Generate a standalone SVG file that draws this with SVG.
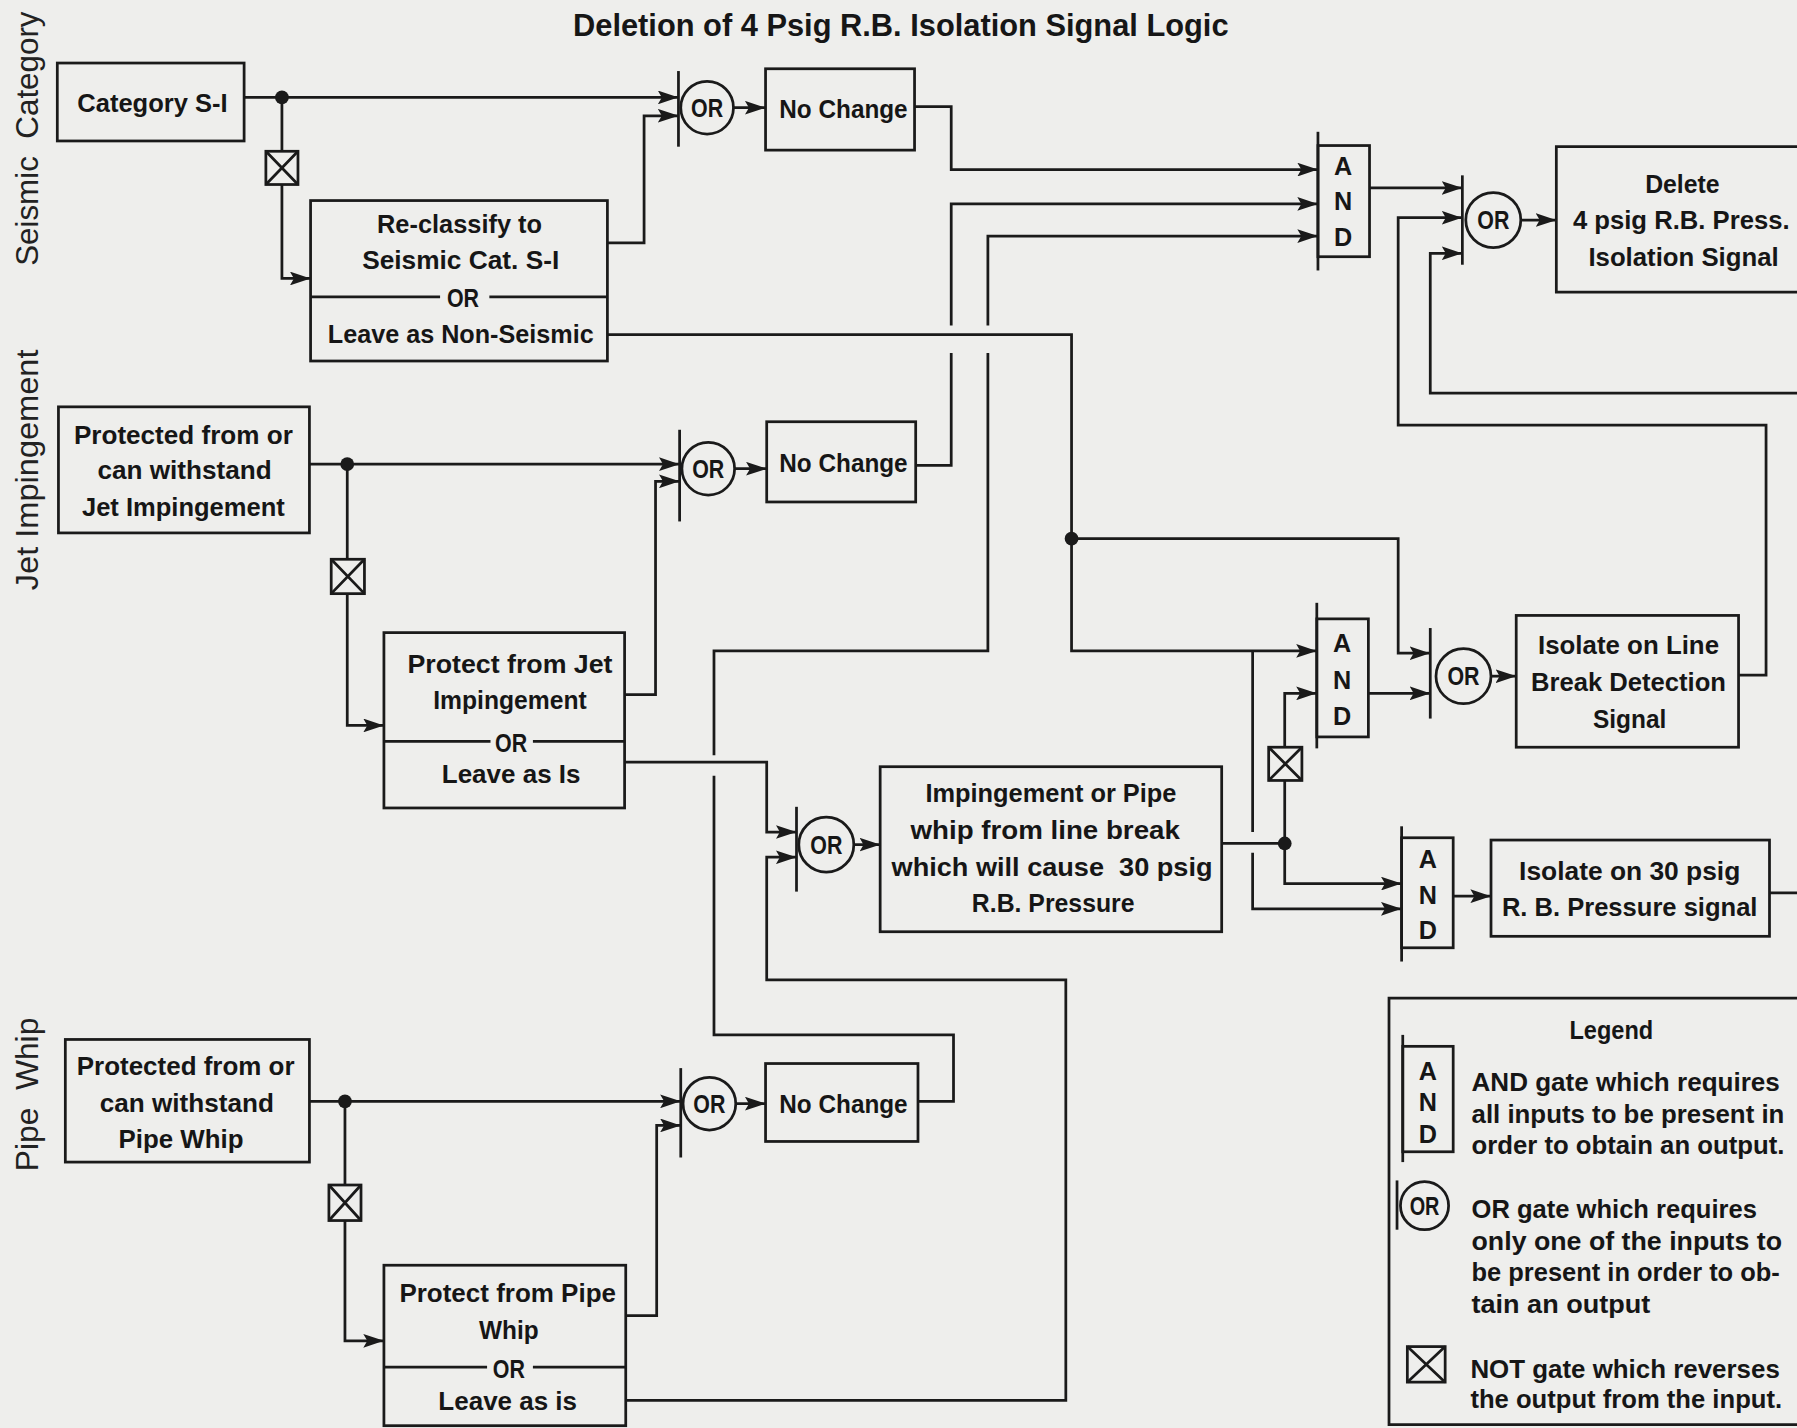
<svg xmlns="http://www.w3.org/2000/svg" width="1797" height="1428" viewBox="0 0 1797 1428">
<style>
.bg{fill:#eeeeec}
.w{fill:none;stroke:#1a1a1a;stroke-width:2.4;stroke-linejoin:miter}
.b{fill:none;stroke:#1a1a1a;stroke-width:2.4}
.dot{fill:#1a1a1a}
.t{font-family:"Liberation Sans",Arial,sans-serif;font-weight:bold;font-size:23px;fill:#161616;text-anchor:middle;white-space:pre}
.g{font-family:"Liberation Sans",Arial,sans-serif;font-weight:bold;font-size:22px;fill:#161616;text-anchor:middle}
.lg{font-family:"Liberation Sans",Arial,sans-serif;font-weight:bold;font-size:22px;fill:#161616}
.side{font-family:"Liberation Sans",Arial,sans-serif;font-weight:normal;font-size:28px;fill:#222;text-anchor:middle;white-space:pre}
.title{font-family:"Liberation Sans",Arial,sans-serif;font-weight:bold;font-size:27px;fill:#161616;text-anchor:middle}
</style>
<defs>
<marker id="ah" viewBox="0 0 18 12" refX="18" refY="6" markerWidth="18" markerHeight="12" orient="auto" markerUnits="userSpaceOnUse">
<path d="M0,0 L18,6 L0,12 L3.5,6 z" fill="#1a1a1a"/>
</marker>
</defs>
<rect class="bg" x="0" y="0" width="1797" height="1428"/>
<g transform="scale(1.146045)">
<g id="title"><text class="title" x="786" y="31" textLength="572" lengthAdjust="spacingAndGlyphs">Deletion of 4 Psig R.B. Isolation Signal Logic</text></g>
<g id="side-labels">
<text class="side" transform="translate(33,121) rotate(-90)" textLength="222" lengthAdjust="spacingAndGlyphs">Seismic  Category</text>
<text class="side" transform="translate(33,410) rotate(-90)" textLength="210" lengthAdjust="spacingAndGlyphs">Jet Impingement</text>
<text class="side" transform="translate(33,955) rotate(-90)" textLength="134" lengthAdjust="spacingAndGlyphs">Pipe  Whip</text>
</g>

<g id="connectors">
<path class="w" d="M213,85 H592" marker-end="url(#ah)"/>
<path class="w" d="M246,85 V132"/>
<path class="w" d="M246,161 V243 H271" marker-end="url(#ah)"/>
<path class="w" d="M530,212 H562 V101 H592" marker-end="url(#ah)"/>
<path class="w" d="M640,94 H668" marker-end="url(#ah)"/>
<path class="w" d="M798,93 H830 V148 H1150" marker-end="url(#ah)"/>
<path class="w" d="M530,292 H935 V568 H1149" marker-end="url(#ah)"/>
<path class="w" d="M935,470 H1220 V570 H1248" marker-end="url(#ah)"/>
<path class="w" d="M270,405 H593" marker-end="url(#ah)"/>
<path class="w" d="M303,405 V488"/>
<path class="w" d="M303,518 V633 H335" marker-end="url(#ah)"/>
<path class="w" d="M545,606 H572 V420 H593" marker-end="url(#ah)"/>
<path class="w" d="M641,409 H669" marker-end="url(#ah)"/>
<path class="w" d="M799,406 H830 V308"/>
<path class="w" d="M830,284 V178 H1150" marker-end="url(#ah)"/>
<path class="w" d="M545,665 H669 V726 H695" marker-end="url(#ah)"/>
<path class="w" d="M745,737 H768" marker-end="url(#ah)"/>
<path class="w" d="M1066,736 H1120"/>
<path class="w" d="M1121,736 V681"/>
<path class="w" d="M1121,652 V605 H1149" marker-end="url(#ah)"/>
<path class="w" d="M1121,736 V771 H1223" marker-end="url(#ah)"/>
<path class="w" d="M1093,568 V726"/>
<path class="w" d="M1093,744 V793 H1223" marker-end="url(#ah)"/>
<path class="w" d="M1194,605 H1248" marker-end="url(#ah)"/>
<path class="w" d="M1301,590 H1323" marker-end="url(#ah)"/>
<path class="w" d="M1517,589 H1541 V371 H1220 V190 H1276" marker-end="url(#ah)"/>
<path class="w" d="M1195,164 H1276" marker-end="url(#ah)"/>
<path class="w" d="M1572,343 H1248 V221 H1276" marker-end="url(#ah)"/>
<path class="w" d="M1327,192 H1358" marker-end="url(#ah)"/>
<path class="w" d="M1268,782 H1301" marker-end="url(#ah)"/>
<path class="w" d="M1544,779 H1572"/>
<path class="w" d="M270,961 H594" marker-end="url(#ah)"/>
<path class="w" d="M301,961 V1034"/>
<path class="w" d="M301,1065 V1170 H335" marker-end="url(#ah)"/>
<path class="w" d="M546,1148 H573 V982 H594" marker-end="url(#ah)"/>
<path class="w" d="M642,963 H668" marker-end="url(#ah)"/>
<path class="w" d="M801,961 H832 V903 H623 V677"/>
<path class="w" d="M623,659 V568 H862 V308"/>
<path class="w" d="M862,284 V206 H1150" marker-end="url(#ah)"/>
<path class="w" d="M546,1222 H930 V855 H669 V748 H695" marker-end="url(#ah)"/>
<circle class="dot" cx="246" cy="85" r="6"/>
<circle class="dot" cx="303" cy="405" r="6"/>
<circle class="dot" cx="301" cy="961" r="6"/>
<circle class="dot" cx="935" cy="470" r="6"/>
<circle class="dot" cx="1121" cy="736" r="6"/>
</g>

<g id="category-s1"><rect class="b" x="50" y="55" width="163" height="68"/>
<text class="t" x="133" y="98" textLength="131" lengthAdjust="spacingAndGlyphs">Category S-I</text></g>
<g id="not1"><rect class="b" x="232" y="132" width="28" height="29"/><path class="b" d="M232,132 L260,161 M260,132 L232,161"/></g>
<g id="reclassify"><rect class="b" x="271" y="175" width="259" height="140"/>
<path class="b" d="M271,259 H384 M427,259 H530"/>
<text class="t" x="401" y="203" textLength="144" lengthAdjust="spacingAndGlyphs">Re-classify to</text>
<text class="t" x="402" y="235" textLength="172" lengthAdjust="spacingAndGlyphs">Seismic Cat. S-I</text>
<text class="t" x="404" y="268" textLength="28" lengthAdjust="spacingAndGlyphs">OR</text>
<text class="t" x="402" y="299" textLength="232" lengthAdjust="spacingAndGlyphs">Leave as Non-Seismic</text></g>
<g id="or1"><path class="b" d="M592,62 V128"/><circle class="b" cx="617" cy="94" r="23"/>
<text class="g" x="617" y="102" textLength="28" lengthAdjust="spacingAndGlyphs">OR</text></g>
<g id="nochange1"><rect class="b" x="668" y="60" width="130" height="71"/>
<text class="t" x="736" y="103" textLength="112" lengthAdjust="spacingAndGlyphs">No Change</text></g>

<g id="jet-protected"><rect class="b" x="51" y="355" width="219" height="110"/>
<text class="t" x="160" y="387" textLength="191" lengthAdjust="spacingAndGlyphs">Protected from or</text>
<text class="t" x="161" y="418" textLength="152" lengthAdjust="spacingAndGlyphs">can withstand</text>
<text class="t" x="160" y="450" textLength="177" lengthAdjust="spacingAndGlyphs">Jet Impingement</text></g>
<g id="not2"><rect class="b" x="289" y="488" width="29" height="30"/><path class="b" d="M289,488 L318,518 M318,488 L289,518"/></g>
<g id="jet-protect"><rect class="b" x="335" y="552" width="210" height="153"/>
<path class="b" d="M335,647 H428 M465,647 H545"/>
<text class="t" x="445" y="587" textLength="179" lengthAdjust="spacingAndGlyphs">Protect from Jet</text>
<text class="t" x="445" y="619" textLength="134" lengthAdjust="spacingAndGlyphs">Impingement</text>
<text class="t" x="446" y="656" textLength="28" lengthAdjust="spacingAndGlyphs">OR</text>
<text class="t" x="446" y="683" textLength="121" lengthAdjust="spacingAndGlyphs">Leave as Is</text></g>
<g id="or2"><path class="b" d="M593,375 V455"/><circle class="b" cx="618" cy="409" r="23"/>
<text class="g" x="618" y="417" textLength="28" lengthAdjust="spacingAndGlyphs">OR</text></g>
<g id="nochange2"><rect class="b" x="669" y="368" width="130" height="70"/>
<text class="t" x="736" y="412" textLength="112" lengthAdjust="spacingAndGlyphs">No Change</text></g>

<g id="or4"><path class="b" d="M695,704 V778"/><circle class="b" cx="721" cy="737" r="24"/>
<text class="g" x="721" y="745" textLength="28" lengthAdjust="spacingAndGlyphs">OR</text></g>
<g id="impingement"><rect class="b" x="768" y="669" width="298" height="144"/>
<text class="t" x="917" y="700" textLength="219" lengthAdjust="spacingAndGlyphs">Impingement or Pipe</text>
<text class="t" x="912" y="732" textLength="235" lengthAdjust="spacingAndGlyphs">whip from line break</text>
<text class="t" x="918" y="764" textLength="280" lengthAdjust="spacingAndGlyphs">which will cause  30 psig</text>
<text class="t" x="919" y="796" textLength="142" lengthAdjust="spacingAndGlyphs">R.B. Pressure</text></g>

<g id="and1"><path class="b" d="M1150,115 V236"/><rect class="b" x="1150" y="127" width="45" height="97"/>
<text class="g" x="1172" y="153">A</text><text class="g" x="1172" y="183">N</text><text class="g" x="1172" y="215">D</text></g>
<g id="or5"><path class="b" d="M1276,153 V231"/><circle class="b" cx="1303" cy="192" r="24"/>
<text class="g" x="1303" y="200" textLength="28" lengthAdjust="spacingAndGlyphs">OR</text></g>
<g id="delete"><path class="b" d="M1572,128 H1358 V255 H1572"/>
<text class="t" x="1468" y="168" textLength="65" lengthAdjust="spacingAndGlyphs">Delete</text>
<text class="t" x="1467" y="200" textLength="189" lengthAdjust="spacingAndGlyphs">4 psig R.B. Press.</text>
<text class="t" x="1469" y="232" textLength="166" lengthAdjust="spacingAndGlyphs">Isolation Signal</text></g>

<g id="and2"><path class="b" d="M1149,526 V653"/><rect class="b" x="1149" y="540" width="45" height="103"/>
<text class="g" x="1171" y="569">A</text><text class="g" x="1171" y="601">N</text><text class="g" x="1171" y="633">D</text></g>
<g id="not4"><rect class="b" x="1107" y="652" width="29" height="29"/><path class="b" d="M1107,652 L1136,681 M1136,652 L1107,681"/></g>
<g id="or3"><path class="b" d="M1248,548 V627"/><circle class="b" cx="1277" cy="590" r="24"/>
<text class="g" x="1277" y="598" textLength="28" lengthAdjust="spacingAndGlyphs">OR</text></g>
<g id="isolate-line-break"><rect class="b" x="1323" y="537" width="194" height="115"/>
<text class="t" x="1421" y="571" textLength="158" lengthAdjust="spacingAndGlyphs">Isolate on Line</text>
<text class="t" x="1421" y="603" textLength="170" lengthAdjust="spacingAndGlyphs">Break Detection</text>
<text class="t" x="1422" y="635" textLength="64" lengthAdjust="spacingAndGlyphs">Signal</text></g>

<g id="and3"><path class="b" d="M1223,721 V839"/><rect class="b" x="1223" y="731" width="45" height="96"/>
<text class="g" x="1246" y="757">A</text><text class="g" x="1246" y="789">N</text><text class="g" x="1246" y="819">D</text></g>
<g id="isolate-30psig"><rect class="b" x="1301" y="733" width="243" height="84"/>
<text class="t" x="1422" y="768" textLength="193" lengthAdjust="spacingAndGlyphs">Isolate on 30 psig</text>
<text class="t" x="1422" y="799" textLength="223" lengthAdjust="spacingAndGlyphs">R. B. Pressure signal</text></g>

<g id="pipe-protected"><rect class="b" x="57" y="907" width="213" height="107"/>
<text class="t" x="162" y="938" textLength="190" lengthAdjust="spacingAndGlyphs">Protected from or</text>
<text class="t" x="163" y="970" textLength="152" lengthAdjust="spacingAndGlyphs">can withstand</text>
<text class="t" x="158" y="1002" textLength="109" lengthAdjust="spacingAndGlyphs">Pipe Whip</text></g>
<g id="not3"><rect class="b" x="287" y="1034" width="28" height="31"/><path class="b" d="M287,1034 L315,1065 M315,1034 L287,1065"/></g>
<g id="pipe-protect"><rect class="b" x="335" y="1104" width="211" height="140"/>
<path class="b" d="M335,1193 H425 M465,1193 H546"/>
<text class="t" x="443" y="1136" textLength="189" lengthAdjust="spacingAndGlyphs">Protect from Pipe</text>
<text class="t" x="444" y="1168" textLength="52" lengthAdjust="spacingAndGlyphs">Whip</text>
<text class="t" x="444" y="1202" textLength="28" lengthAdjust="spacingAndGlyphs">OR</text>
<text class="t" x="443" y="1230" textLength="121" lengthAdjust="spacingAndGlyphs">Leave as is</text></g>
<g id="or6"><path class="b" d="M594,932 V1010"/><circle class="b" cx="619" cy="963" r="23"/>
<text class="g" x="619" y="971" textLength="28" lengthAdjust="spacingAndGlyphs">OR</text></g>
<g id="nochange3"><rect class="b" x="668" y="928" width="133" height="68"/>
<text class="t" x="736" y="971" textLength="112" lengthAdjust="spacingAndGlyphs">No Change</text></g>

<g id="legend">
<path class="b" d="M1572,871 H1212 V1243 H1572"/>
<text class="t" x="1406" y="907" textLength="73" lengthAdjust="spacingAndGlyphs">Legend</text>
<path class="b" d="M1224,903 V1014"/><rect class="b" x="1224" y="913" width="44" height="92"/>
<text class="g" x="1246" y="942" font-size="21">A</text><text class="g" x="1246" y="969" font-size="21">N</text><text class="g" x="1246" y="997" font-size="21">D</text>
<text class="lg" x="1284" y="952" textLength="269" lengthAdjust="spacingAndGlyphs">AND gate which requires</text>
<text class="lg" x="1284" y="980" textLength="273" lengthAdjust="spacingAndGlyphs">all inputs to be present in</text>
<text class="lg" x="1284" y="1007" textLength="273" lengthAdjust="spacingAndGlyphs">order to obtain an output.</text>
<path class="b" d="M1219,1030 V1073"/><circle class="b" cx="1243" cy="1052" r="21"/>
<text class="g" x="1243" y="1060" textLength="26" lengthAdjust="spacingAndGlyphs">OR</text>
<text class="lg" x="1284" y="1063" textLength="249" lengthAdjust="spacingAndGlyphs">OR gate which requires</text>
<text class="lg" x="1284" y="1091" textLength="271" lengthAdjust="spacingAndGlyphs">only one of the inputs to</text>
<text class="lg" x="1284" y="1118" textLength="269" lengthAdjust="spacingAndGlyphs">be present in order to ob-</text>
<text class="lg" x="1284" y="1146" textLength="156" lengthAdjust="spacingAndGlyphs">tain an output</text>
<rect class="b" x="1228" y="1175" width="33" height="31"/><path class="b" d="M1228,1175 L1261,1206 M1261,1175 L1228,1206"/>
<text class="lg" x="1283" y="1202" textLength="270" lengthAdjust="spacingAndGlyphs">NOT gate which reverses</text>
<text class="lg" x="1283" y="1229" textLength="272" lengthAdjust="spacingAndGlyphs">the output from the input.</text>
</g>
</g>
</svg>
